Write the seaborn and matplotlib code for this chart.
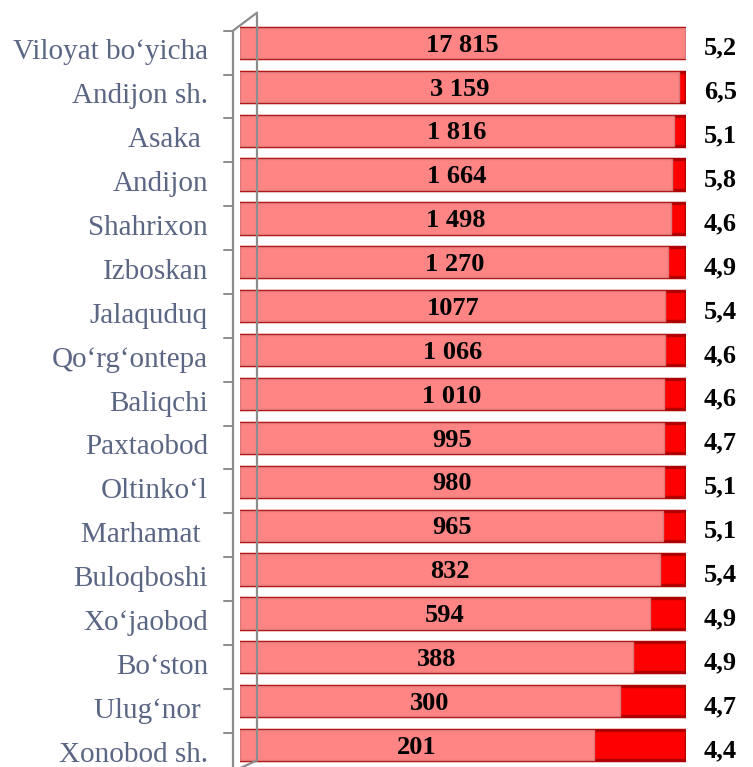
import numpy as np
import pandas as pd
import matplotlib
matplotlib.use("Agg")
import matplotlib.pyplot as plt
import matplotlib.transforms as mtransforms
import seaborn as sns

# districts, top to bottom
districts = ["Viloyat bo‘yicha", "Andijon sh.", "Asaka ", "Andijon", "Shahrixon",
             "Izboskan", "Jalaquduq", "Qo‘rg‘ontepa", "Baliqchi", "Paxtaobod",
             "Oltinko‘l", "Marhamat ", "Buloqboshi", "Xo‘jaobod", "Bo‘ston",
             "Ulug‘nor ", "Xonobod sh."]
counts = [17815, 3159, 1816, 1664, 1498, 1270, 1077, 1066, 1010, 995,
          980, 965, 832, 594, 388, 300, 201]
count_labels = ["17 815", "3 159", "1 816", "1 664", "1 498", "1 270", "1077",
                "1 066", "1 010", "995", "980", "965", "832", "594", "388", "300", "201"]
rates = ["5,2", "6,5", "5,1", "5,8", "4,6", "4,9", "5,4", "4,6", "4,6", "4,7",
         "5,1", "5,1", "5,4", "4,9", "4,9", "4,7", "4,4"]
# helper series stacked after the counts (red end caps), 100% stacked
pad = [52, 52, 52, 52, 52, 52, 52, 52, 52, 52, 52, 52, 52, 52, 52, 52, 52]

df = pd.DataFrame({"district": districts, "count": counts, "pad": pad})
df["total"] = df["count"] + df["pad"]
df["share"] = df["count"] / df["total"]
df["full"] = df["total"] / df["total"]

sns.set_style("white")
plt.rcParams["font.family"] = ["Liberation Serif", "DejaVu Serif"]

fig = plt.figure(figsize=(7.53, 7.67), dpi=100)
ax = fig.add_axes([240 / 753, 0, 446 / 753, 746 / 767])

sns.barplot(data=df, y="district", x="full", color="#FF0000", width=0.69,
            edgecolor="#B00000", linewidth=2.5, saturation=1, ax=ax, orient="h")
sns.barplot(data=df, y="district", x="share", color="#FF8585", width=0.69,
            edgecolor="#D87878", linewidth=1.0, saturation=1, ax=ax, orient="h")

ax.set_xlim(0, 1)
ax.set_ylim(len(districts) - 0.5, -0.5)
ax.set_xlabel("")
ax.set_ylabel("")
ax.set_xticks([])
ax.tick_params(axis="y", length=0, pad=23, labelsize=21, labelcolor="#5B6584")
shift = mtransforms.ScaledTranslation(0, -0.065, fig.dpi_scale_trans)
for lab in ax.get_yticklabels():
    lab.set_transform(lab.get_transform() + shift)
for s in ax.spines.values():
    s.set_visible(False)

# value labels
for i, row in df.iterrows():
    ax.text(row["share"] / 2, i + 0.05, count_labels[i], ha="center", va="center",
            fontsize=19, fontweight="bold", color="black")
    ax.text(1.04, i + 0.12, rates[i], ha="left", va="center",
            fontsize=19, fontweight="bold", color="black", clip_on=False)

# 3D-like side wall
tr = ax.get_yaxis_transform()
x0, x1 = -7 / 446, 17 / 446
ax.plot([x0, x0], [-0.28, 16.6], color="#8C8C8C", lw=1.6, transform=tr, clip_on=False)
ax.plot([x1, x1], [-0.69, 16.35], color="#8C8C8C", lw=1.6, transform=tr, clip_on=False, zorder=5)
ax.plot([x0, x1], [-0.28, -0.69], color="#8C8C8C", lw=1.6, transform=tr, clip_on=False)
ax.plot([x0, x1], [16.6, 16.35], color="#8C8C8C", lw=1.6, transform=tr, clip_on=False)
for i in range(len(districts)):
    ax.plot([-16 / 446, x0], [i - 0.28, i - 0.28], color="#8C8C8C", lw=1.4,
            transform=tr, clip_on=False)

fig.savefig("out.png", dpi=100)
